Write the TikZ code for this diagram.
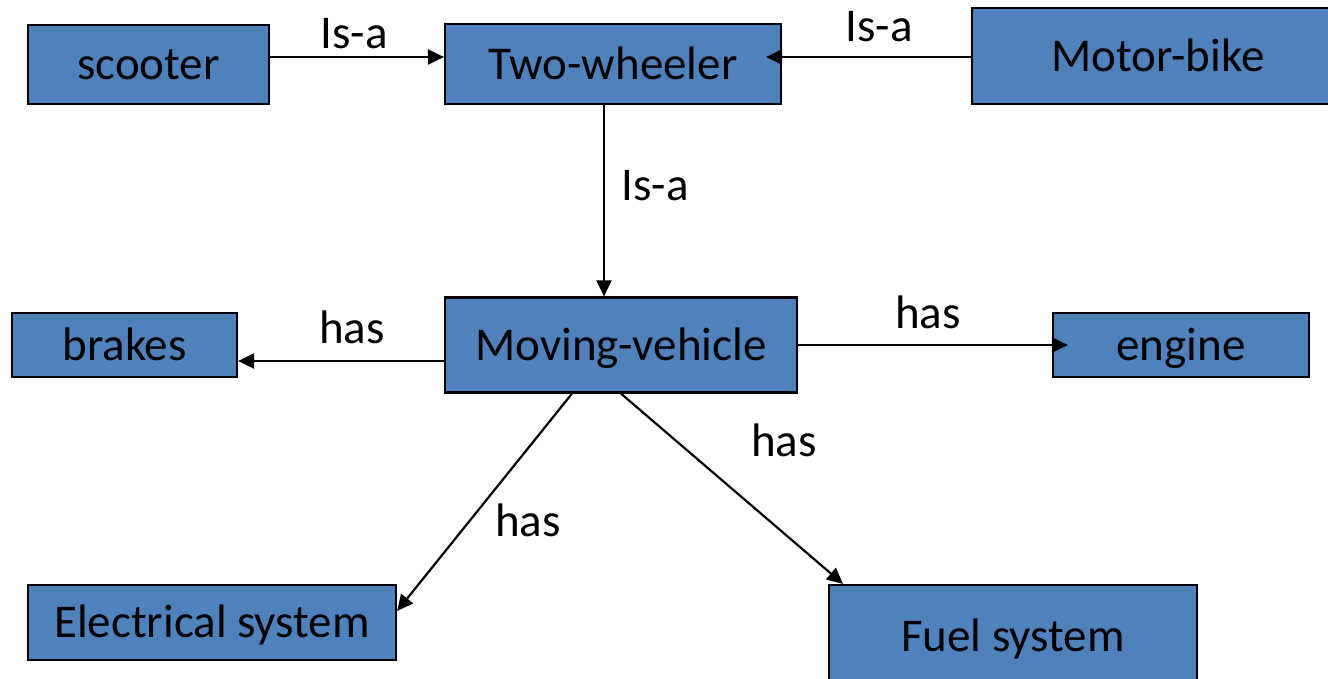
\documentclass[tikz,border=0pt]{standalone}
\usepackage{fontspec}
\setmainfont{Carlito}
\usetikzlibrary{arrows.meta}
\definecolor{boxblue}{HTML}{4F81BD}
\begin{document}
\begin{tikzpicture}[x=1pt,y=-1pt,
  every node/.style={font=\fontsize{47}{56}\selectfont, inner sep=0pt},
  concept/.style={draw=black, line width=2.2pt, fill=boxblue,
    text height=30pt, text depth=0pt},
  arr/.style={line width=2.2pt, -{Triangle[length=16pt,width=15pt]}},
  rel/.style={text height=30pt, text depth=0pt}]
\useasboundingbox (0,0) rectangle (1328,678);

% concept boxes
\node[concept, minimum width=241, minimum height=79] (scooter) at (148.5,64.5) {scooter};
\node[concept, minimum width=336, minimum height=80] (tw) at (613,64) {Two-wheeler};
\node[concept, minimum width=372, minimum height=96] (mb) at (1158,56) {Motor-bike};
\node[concept, minimum width=352, minimum height=95] (mv) at (621,345) {Moving-vehicle};
\node[concept, minimum width=225, minimum height=64] (brakes) at (124.5,345) {brakes};
\node[concept, minimum width=256, minimum height=64] (engine) at (1181,345) {engine};
\node[concept, minimum width=368, minimum height=75] (elec) at (212,622.5) {Electrical system};
\node[concept, minimum width=368, minimum height=102] (fuel) at (1013,636) {Fuel system};

% relation labels
\node[rel] (l1) at (354,33) {Is-a};
\node[rel] (l2) at (879,26) {Is-a};
\node[rel] (l3) at (655,185) {Is-a};
\node[rel] (l4) at (352,328) {has};
\node[rel] (l5) at (928,313) {has};
\node[rel] (l6) at (528,521) {has};
\node[rel] (l7) at (784,441) {has};

% connectors
\draw[arr] ([yshift=7.5pt]scooter.east) -- ([yshift=7pt]tw.west);
\draw[arr, shorten >=-16pt] ([yshift=-1pt]mb.west) -- ([yshift=7pt]tw.east);
\draw[arr] ([xshift=-9pt]tw.south) -- ([xshift=-17pt]mv.north);
\draw[arr] ([yshift=-16pt]mv.west) -- ([yshift=-16pt]brakes.east);
\draw[arr, shorten >=-16pt] (mv.east) -- (engine.west);
\draw[arr] ([xshift=-49pt]mv.south) -- ([yshift=11.5pt]elec.east);
\draw[arr] (mv.south) -- ([xshift=-170pt]fuel.north);
\end{tikzpicture}
\end{document}
